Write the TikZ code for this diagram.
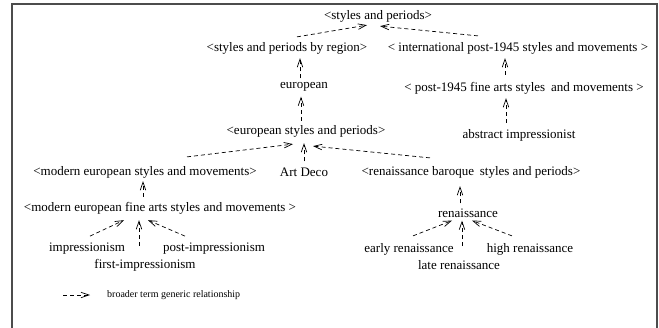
\documentclass[tikz,border=0pt]{standalone}
\usepackage{fontspec}
\setmainfont{Liberation Serif}
\usetikzlibrary{calc,arrows.meta}

\begin{document}
\begin{tikzpicture}[
    x=1pt, y=-1pt,
    term/.style={inner sep=1pt, font=\fontsize{13}{15}\selectfont},
    bt/.style={line width=0.7pt, dash pattern=on 4pt off 3pt, -{Straight Barb[length=8pt,width=5.5pt]}},
    legendtext/.style={inner sep=1pt, font=\fontsize{10}{12}\selectfont},
    frame/.style={line width=1.1pt, black!70},
]
\useasboundingbox (0,0) rectangle (659,327);
\draw[frame] (12,330) -- (12,4) -- (657,4) -- (657,330);

% --- terms ---
\node[term] (styles) at (378,16) {<styles and periods>};
\node[term] (region) at (287,48) {<styles and periods by region>};
\node[term] (intl) at (518,48) {< international post-1945 styles and movements >};
\node[term] (european) at (304,87) {european};
\node[term] (post) at (524,88) {< post-1945 fine arts styles\hspace{0.2em} and movements >};
\node[term] (eustyles) at (306,131) {<european styles and periods>};
\node[term] (abstract) at (519,135) {abstract impressionist};
\node[term] (modeu) at (145,172) {<modern european styles and movements>};
\node[term] (artdeco) at (304,172) {Art Deco};
\node[term] (renbar) at (471,172) {<renaissance baroque\hspace{0.2em} styles and periods>};
\node[term] (fine) at (160,208) {<modern european fine arts styles and movements >};
\node[term] (impr) at (87,249) {impressionism};
\node[term] (postimpr) at (214,249) {post-impressionism};
\node[term] (firstimpr) at (145,265) {first-impressionism};
\node[term] (ren) at (468,213) {renaissance};
\node[term] (early) at (409,249) {early renaissance};
\node[term] (high) at (530,249) {high renaissance};
\node[term] (late) at (459,265) {late renaissance};

% --- broader term links ---
\draw[bt] ($(region.north)+(10,-4)$) -- ($(styles.south)+(-11,2)$);
\draw[bt] ($(intl.north)+(-40,-5)$) -- ($(styles.south)+(2,3)$);
\draw[bt] ($(european.north)+(-4,-3)$) -- ($(region.south)+(13,3)$);
\draw[bt] ($(eustyles.north)+(-5,-3)$) -- ($(european.south)+(-3,4)$);
\draw[bt] ($(post.north)+(-19,-6)$) -- ($(intl.south)+(-13,3)$);
\draw[bt] ($(abstract.north)+(-13,-5)$) -- ($(post.south)+(-18,3)$);
\draw[bt] ($(modeu.north)+(42,-8)$) -- ($(eustyles.south)+(-13,6)$);
\draw[bt] ($(artdeco.north)+(0,-5)$) -- ($(eustyles.south)+(-2,5)$);
\draw[bt] ($(renbar.north)+(-41,-7)$) -- ($(eustyles.south)+(7,8)$);
\draw[bt] ($(fine.north)+(-17,-4)$) -- ($(modeu.south)+(-2,2)$);
\draw[bt] ($(impr.north)+(3,-6)$) -- ($(fine.south)+(-36,5)$);
\draw[bt] ($(firstimpr.north)+(-6,-12)$) -- ($(fine.south)+(-21,5)$);
\draw[bt] ($(postimpr.north)+(-29,-6)$) -- ($(fine.south)+(-12,5)$);
\draw[bt] ($(ren.north)+(-8,-4)$) -- ($(renbar.south)+(-11,7)$);
\draw[bt] ($(early.north)+(4,-6)$) -- ($(ren.south)+(-16,2)$);
\draw[bt] ($(late.north)+(3,-13)$) -- ($(ren.south)+(-6,2)$);
\draw[bt] ($(high.north)+(-18,-6)$) -- ($(ren.south)+(4,2)$);

% --- legend ---
\coordinate (legstart) at (63,295);
\node[legendtext, anchor=west] (legtext) at (106,295) {broader term generic relationship};
\draw[bt] (legstart) -- ($(legtext.west)+(-16,0)$);
\end{tikzpicture}
\end{document}
